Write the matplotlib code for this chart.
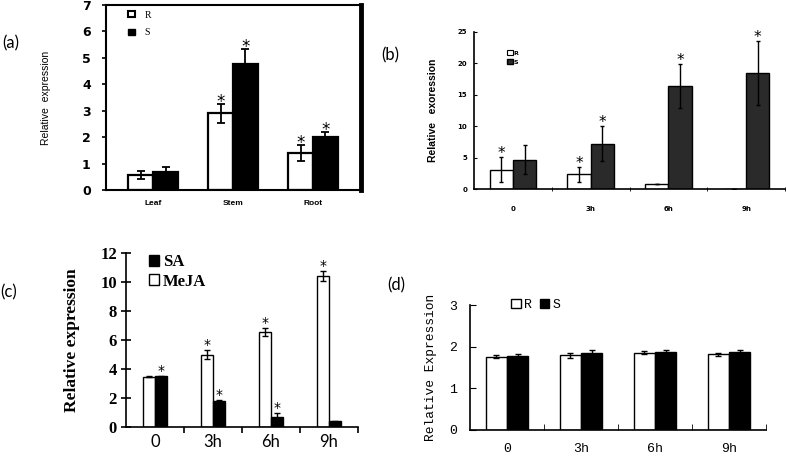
import matplotlib
matplotlib.use('Agg')
import matplotlib.pyplot as plt
from matplotlib.patches import Patch
import numpy as np

W, H = 787, 458

# (a) tissues
tissues = ['Leaf', 'Stem', 'Root']
a_R = [0.57, 2.9, 1.4]
a_R_err = [0.15, 0.35, 0.3]
a_S = [0.7, 4.75, 2.0]
a_S_err = [0.18, 0.6, 0.2]
a_R_sig = [False, True, True]
a_S_sig = [False, True, True]

# (b) time course, R vs S
times = ['0', '3h', '6h', '9h']
b_R = [3.05, 2.35, 0.8, 0.0]
b_R_err = [2.0, 1.2, 0.0, 0.0]
b_S = [4.65, 7.2, 16.4, 18.5]
b_S_err = [2.3, 2.8, 3.5, 5.1]
b_R_sig = [True, True, False, False]
b_S_sig = [False, True, True, True]

# (c) hormone treatment
c_MeJA = [3.47, 4.99, 6.55, 10.39]
c_MeJA_err = [0.03, 0.33, 0.3, 0.35]
c_SA = [3.5, 1.8, 0.69, 0.38]
c_SA_err = [0.05, 0.05, 0.25, 0.04]
c_MeJA_sig = [False, True, True, True]
c_SA_sig = [True, True, True, False]

# (d) time course, R vs S
d_R = [1.76, 1.8, 1.86, 1.82]
d_R_err = [0.04, 0.06, 0.04, 0.04]
d_S = [1.78, 1.86, 1.87, 1.87]
d_S_err = [0.04, 0.05, 0.05, 0.05]


def px_axes(fig, l, t, r, b):
    return fig.add_axes([l / W, 1 - b / H, (r - l) / W, (b - t) / H])


def stars(ax, xs, tops, sig, size, dy, family='DejaVu Sans'):
    for x, y, s in zip(xs, tops, sig):
        if s:
            ax.annotate('*', (x, y), xytext=(0, dy), textcoords='offset pixels',
                        ha='center', va='baseline', fontsize=size, family=family,
                        annotation_clip=False)


fig = plt.figure(figsize=(W / 100, H / 100), dpi=100)

# ---------------- (a) ----------------
ax = px_axes(fig, 106, 5, 361, 190)
x = np.arange(len(tissues))
w = 0.31
ekw = dict(ecolor='black', elinewidth=1.3, capsize=3, capthick=1.3)
ax.bar(x - w / 2, a_R, w, yerr=a_R_err, color='white', edgecolor='black', linewidth=1.6, error_kw=ekw, label='R')
ax.bar(x + w / 2, a_S, w, yerr=a_S_err, color='black', edgecolor='black', linewidth=1.6, error_kw=ekw, label='S')
stars(ax, x - w / 2, np.add(a_R, a_R_err), a_R_sig, 12, -3)
stars(ax, x + w / 2, np.add(a_S, a_S_err), a_S_sig, 12, -3)
ax.set_xlim(-0.59, 2.6)
ax.set_ylim(0, 7)
ax.set_yticks(range(8))
ax.set_xticks(x)
ax.set_xticklabels(tissues, fontsize=6, fontweight='bold', family='Liberation Sans')
for t in ax.get_yticklabels():
    t.set_fontsize(9)
    t.set_fontweight('heavy')
    t.set_family('DejaVu Sans')
ax.tick_params(axis='x', length=0, pad=7)
ax.tick_params(axis='y', length=3, width=1.2, direction='out', pad=8)
for sp in ['left', 'bottom', 'top']:
    ax.spines[sp].set_linewidth(1.5)
ax.spines['right'].set_linewidth(3.5)
ax.set_ylabel('Relative  expression', fontsize=7.5, family='Liberation Sans')
ax.yaxis.set_label_coords(-0.216, 0.5)
ax.legend(handles=[Patch(facecolor='white', edgecolor='black', linewidth=1.5, label='R'),
                   Patch(facecolor='black', edgecolor='black', label='S')],
          loc='center left', bbox_to_anchor=(0.086, 0.897), frameon=False,
          prop={'family': 'Liberation Serif', 'size': 7}, handlelength=0.7,
          handleheight=0.5, handletextpad=1.0, labelspacing=0.9,
          borderpad=0, borderaxespad=0)

# ---------------- (b) ----------------
ax = px_axes(fig, 474, 32, 785, 189)
x = np.arange(len(times))
w = 0.3
ekw = dict(ecolor='black', elinewidth=1.0, capsize=1.5, capthick=1.0)
ax.bar(x - w / 2, b_R, w, yerr=b_R_err, color='white', edgecolor='black', linewidth=1.0, error_kw=ekw)
ax.bar(x + w / 2, b_S, w, yerr=b_S_err, color='#2a2a2a', edgecolor='black', linewidth=1.0, error_kw=ekw)
stars(ax, x - w / 2, np.add(b_R, b_R_err), b_R_sig, 11, -1)
stars(ax, x + w / 2, np.add(b_S, b_S_err), b_S_sig, 11, -1)
ax.set_xlim(-0.5, 3.5)
ax.set_ylim(0, 25)
ax.set_yticks([0, 5, 10, 15, 20, 25])
ax.set_xticks(x)
ax.set_xticklabels(times)
ax.set_xticks([0.5, 1.5, 2.5, 3.5], minor=True)
ax.tick_params(axis='x', which='major', length=0, pad=12, labelsize=5)
ax.tick_params(axis='x', which='minor', length=2.5, direction='inout')
ax.tick_params(axis='y', length=2, direction='in', labelsize=5, pad=5)
for t in ax.get_xticklabels() + ax.get_yticklabels():
    t.set_fontweight('bold')
for sp in ['top', 'right']:
    ax.spines[sp].set_visible(False)
ax.spines['left'].set_linewidth(1.2)
ax.spines['bottom'].set_linewidth(1.2)
ax.set_ylabel('Relative   exoression', fontsize=7.5, fontweight='bold', family='Liberation Sans')
ax.yaxis.set_label_coords(-0.116, 0.5)
ax.legend(handles=[Patch(facecolor='white', edgecolor='black', linewidth=0.8, label='R'),
                   Patch(facecolor='#2a2a2a', edgecolor='black', label='S')],
          loc='center left', bbox_to_anchor=(0.106, 0.838), frameon=False,
          prop={'size': 4.5, 'weight': 'bold'}, handlelength=0.9,
          handleheight=0.9, handletextpad=0.2, labelspacing=0.5,
          borderpad=0, borderaxespad=0)

# ---------------- (c) ----------------
ax = px_axes(fig, 126, 253, 358, 427)
w = 0.2
ekw = dict(ecolor='black', elinewidth=1.0, capsize=2.5, capthick=1.0)
ax.bar(x - w / 2, c_MeJA, w, yerr=c_MeJA_err, color='white', edgecolor='black', linewidth=1.0, error_kw=ekw)
ax.bar(x + w / 2, c_SA, w, yerr=c_SA_err, color='black', edgecolor='black', linewidth=1.0, error_kw=ekw)
stars(ax, x - w / 2, np.add(c_MeJA, c_MeJA_err), c_MeJA_sig, 10, 1)
stars(ax, x + w / 2, np.add(c_SA, c_SA_err), c_SA_sig, 10, 1)
ax.set_xlim(-0.5, 3.5)
ax.set_ylim(0, 12)
ax.set_yticks(range(0, 13, 2))
ax.set_xticks(x)
ax.set_xticklabels(times, fontsize=12, family='Lato')
ax.set_xticks([0.5, 1.5, 2.5, 3.5], minor=True)
ax.tick_params(axis='x', which='major', length=0, pad=5)
ax.tick_params(axis='x', which='minor', length=4, width=1.2, direction='out')
ax.tick_params(axis='y', length=7, width=1.2, direction='inout', pad=3)
for t in ax.get_yticklabels():
    t.set_fontsize(12)
    t.set_fontweight('bold')
    t.set_family('Liberation Serif')
for sp in ['top', 'right']:
    ax.spines[sp].set_visible(False)
ax.spines['left'].set_linewidth(1.2)
ax.spines['bottom'].set_linewidth(1.2)
ax.set_ylabel('Relative expression', fontsize=12.5, fontweight='bold', family='Liberation Serif')
ax.yaxis.set_label_coords(-0.198, 0.5)
ax.legend(handles=[Patch(facecolor='black', edgecolor='black', label='SA'),
                   Patch(facecolor='white', edgecolor='black', label='MeJA')],
          loc='center left', bbox_to_anchor=(0.099, 0.891), frameon=False,
          prop={'family': 'Liberation Serif', 'size': 12, 'weight': 'bold'},
          handlelength=0.6, handleheight=0.6, handletextpad=0.25, labelspacing=0.2,
          borderpad=0, borderaxespad=0)

# ---------------- (d) ----------------
ax = px_axes(fig, 470, 305, 766, 430)
w = 0.29
ekw = dict(ecolor='black', elinewidth=1.0, capsize=2, capthick=1.0)
ax.bar(x - w / 2, d_R, w, yerr=d_R_err, color='white', edgecolor='black', linewidth=1.0, error_kw=ekw)
ax.bar(x + w / 2, d_S, w, yerr=d_S_err, color='black', edgecolor='black', linewidth=1.0, error_kw=ekw)
ax.set_xlim(-0.5, 3.5)
ax.set_ylim(0, 3)
ax.set_yticks([0, 1, 2, 3])
ax.set_xticks(x)
ax.set_xticklabels(times)
ax.set_xticks([0.5, 1.5, 2.5, 3.5], minor=True)
ax.tick_params(axis='x', which='major', length=0, pad=9)
ax.tick_params(axis='x', which='minor', length=4, direction='in')
ax.tick_params(axis='y', length=4, direction='in', pad=9)
for t in ax.get_xticklabels() + ax.get_yticklabels():
    t.set_fontsize(9.5)
    t.set_family('Liberation Mono')
for sp in ['top', 'right']:
    ax.spines[sp].set_visible(False)
ax.spines['left'].set_linewidth(1.2)
ax.spines['bottom'].set_linewidth(1.2)
ax.set_ylabel('Relative Expression', fontsize=9.3, family='Liberation Mono')
ax.yaxis.set_label_coords(-0.113, 0.5)
ax.legend(handles=[Patch(facecolor='white', edgecolor='black', label='R'),
                   Patch(facecolor='black', edgecolor='black', label='S')],
          loc='center left', bbox_to_anchor=(0.139, 1.0), frameon=False, ncol=2,
          prop={'family': 'Liberation Mono', 'size': 9.5}, handlelength=0.75,
          handleheight=0.75, handletextpad=0.2, columnspacing=0.6,
          borderpad=0, borderaxespad=0)

# panel letters
for lbl, px, py in [('(a)', 11, 43), ('(b)', 390, 55), ('(c)', 9, 292), ('(d)', 396, 285)]:
    fig.text(px / W, 1 - py / H, lbl, ha='center', va='center', fontsize=12, family='Lato')

fig.savefig('out.png', dpi=100)
